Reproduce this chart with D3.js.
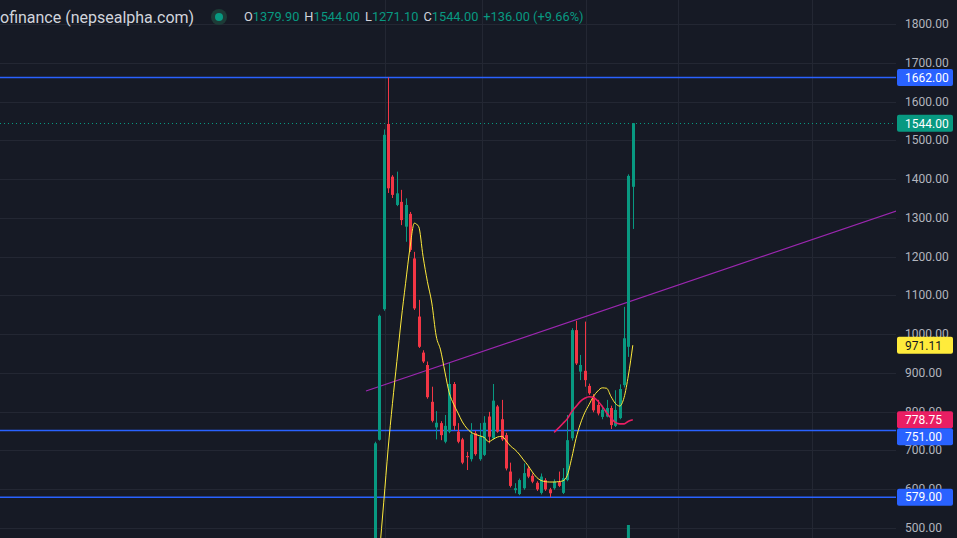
<!DOCTYPE html>
<meta charset="utf-8">
<style>
body { margin: 0; background: #161a25; }
svg { display: block; }
text { font-family: Roboto, "Noto Sans", sans-serif; }
</style>
<svg width="957" height="538"></svg>
<script src="https://d3js.org/d3.v7.min.js"></script>
<script>

// daily candles, left to right (first one opens below the visible range)
var opens  = [420, 727, 1064, 1542, 1406, 1333, 1341, 1277, 1310, 1195, 1045, 952, 920, 825, 759, 770, 722, 748, 871, 748,
              728, 685, 677, 744, 677, 688, 787, 731, 813, 780, 739, 645, 597, 587, 602, 653, 634, 616, 590, 623,
              599, 602, 619, 590, 623, 731, 1010, 903, 905, 866, 839, 817, 786, 787, 809, 763, 783, 868, 967, 1379.9];
var highs  = [722, 1050, 1528, 1662, 1410, 1419, 1372, 1350, 1315, 1212, 1088, 958, 929, 864, 801, 775, 791, 925, 876, 770,
              732, 696, 770, 750, 770, 788, 799, 871, 817, 830, 745, 668, 615, 627, 666, 658, 640, 620, 640, 628,
              603, 625, 645, 654, 791, 1015, 1034, 946, 1032, 872, 845, 830, 815, 830, 815, 855, 870, 1070, 1412, 1544];
var lows   = [400, 725, 1060, 1364, 1351, 1330, 1281, 1238, 1212, 1062, 964, 925, 833, 772, 728, 726, 718, 744, 752, 718,
              664, 649, 671, 686, 673, 685, 718, 728, 745, 724, 648, 604, 589, 584, 598, 628, 615, 595, 586, 595,
              579, 598, 605, 587, 620, 725, 920, 881, 864, 843, 798, 790, 780, 785, 755, 760, 780, 862, 941, 1271.1];
var closes = [718, 1047, 1514, 1376, 1359, 1363, 1294, 1333, 1217, 1066, 967, 929, 837, 776, 771, 739, 763, 871, 763, 722,
              668, 682, 741, 690, 735, 771, 735, 828, 748, 728, 653, 608, 602, 623, 641, 632, 619, 599, 632, 599,
              589, 619, 608, 628, 726, 1010, 924, 920, 881, 847, 803, 795, 804, 809, 765, 804, 858, 989, 1408, 1544];

// yellow moving average (index 0 has no value)
var maFast = [null, 432, 566, 703, 821, 929, 1036, 1131, 1222, 1286, 1277, 1200, 1135, 1080, 995, 959, 902, 848, 819, 796,
              773, 757, 746, 741, 737, 733, 722, 728, 734, 736, 725, 711, 702, 690, 675, 661, 644, 630, 622, 619,
              618, 618, 619, 621, 635, 679, 730, 768, 797, 818, 839, 853, 861, 860, 839, 821, 814, 836, 894, 971.11];
// crimson moving average, starts at candle 41
var maSlowStart = 41;
var maSlow = [746, 757.5, 769, 781, 799, 813, 826, 834, 838, 836, 827, 813, 797, 783, 772, 768, 768, 775, 778.75];

var volumeIndex = [58];
var volumeValue = [13];

var levels = [1662, 751, 579];             // blue horizontal lines
var trendLine = [[-2.06, 853], [120, 1320]]; // purple line, [candle index, price]
var lastPrice = 1544;

var priceTicks = d3.range(500, 1801, 100);
var timeGrid = [2.3, 24.5, 48.3, 69.3, 100];

var svg = d3.select("svg"),
    width = +svg.attr("width"),
    height = +svg.attr("height"),
    plotRight = 896;

var green = "#089981", red = "#f23645", blue = "#2962ff";

var x = d3.scaleLinear().domain([0, 59]).range([375, 632.8]);
var y = d3.scaleLinear().domain([1800, 500]).range([24, 527.75]);
var yVol = d3.scaleLinear().domain([0, 100]).range([height, height - 100]);

svg.append("defs").append("clipPath").attr("id", "plot")
  .append("rect").attr("width", plotRight).attr("height", height);

var plot = svg.append("g").attr("clip-path", "url(#plot)");

// grid
plot.append("g").selectAll("line")
    .data(priceTicks)
    .enter().append("line")
    .attr("x1", 0).attr("x2", plotRight)
    .attr("y1", function(d) { return Math.round(y(d)) + 0.5; })
    .attr("y2", function(d) { return Math.round(y(d)) + 0.5; })
    .attr("stroke", "#232733");

plot.append("g").selectAll("line")
    .data(timeGrid)
    .enter().append("line")
    .attr("y1", 0).attr("y2", height)
    .attr("x1", function(d) { return Math.round(x(d)) + 0.5; })
    .attr("x2", function(d) { return Math.round(x(d)) + 0.5; })
    .attr("stroke", "#232733");

// volume
plot.append("g").selectAll("rect")
    .data(volumeIndex)
    .enter().append("rect")
    .attr("x", function(d) { return x(d) - 1.5; })
    .attr("width", 3)
    .attr("y", function(d, i) { return yVol(volumeValue[i]); })
    .attr("height", function(d, i) { return height - yVol(volumeValue[i]); })
    .attr("fill", green);

// levels
plot.append("g").selectAll("line")
    .data(levels)
    .enter().append("line")
    .attr("x1", 0).attr("x2", plotRight)
    .attr("y1", function(d) { return y(d); })
    .attr("y2", function(d) { return y(d); })
    .attr("stroke", blue).attr("stroke-width", 1.5);

// last price dotted line
plot.append("line")
    .attr("x1", 0).attr("x2", plotRight)
    .attr("y1", Math.round(y(lastPrice)) + 0.5)
    .attr("y2", Math.round(y(lastPrice)) + 0.5)
    .attr("stroke", green).attr("stroke-dasharray", "1,3");

// trend line
plot.append("line")
    .attr("x1", x(trendLine[0][0])).attr("y1", y(trendLine[0][1]))
    .attr("x2", x(trendLine[1][0])).attr("y2", y(trendLine[1][1]))
    .attr("stroke", "#9c27b0").attr("stroke-width", 1.2);

// candles
var idx = d3.range(opens.length);
var candle = plot.append("g").selectAll("g")
    .data(idx)
    .enter().append("g")
    .attr("fill", function(i) { return closes[i] >= opens[i] ? green : red; });

candle.append("rect")
    .attr("x", function(i) { return Math.round(x(i)); })
    .attr("width", 1)
    .attr("y", function(i) { return y(highs[i]); })
    .attr("height", function(i) { return y(lows[i]) - y(highs[i]); });

candle.append("rect")
    .attr("x", function(i) { return Math.round(x(i)) - 1; })
    .attr("width", 3)
    .attr("y", function(i) { return y(Math.max(opens[i], closes[i])); })
    .attr("height", function(i) { return Math.max(1, Math.abs(y(opens[i]) - y(closes[i]))); });

// moving averages
var line = d3.line()
    .defined(function(d) { return d[1] != null; })
    .x(function(d) { return x(d[0]); })
    .y(function(d) { return y(d[1]); })
    .curve(d3.curveMonotoneX);

plot.append("path")
    .datum(maFast.map(function(v, i) { return [i, v]; }))
    .attr("d", line)
    .attr("fill", "none").attr("stroke", "#ffeb3b").attr("stroke-width", 1);

plot.append("path")
    .datum(maSlow.map(function(v, i) { return [i + maSlowStart, v]; }))
    .attr("d", line)
    .attr("fill", "none").attr("stroke", "#e91e63").attr("stroke-width", 1.6);

// price axis
var axis = svg.append("g");
axis.selectAll("text")
    .data(priceTicks)
    .enter().append("text")
    .attr("x", 905)
    .attr("y", function(d) { return y(d); })
    .attr("dy", "0.35em")
    .attr("font-size", 12)
    .attr("fill", "#b2b5be")
    .text(function(d) { return d3.format(".2f")(d); });

var badges = [
  { v: 1662, bg: blue, fg: "#ffffff" },
  { v: lastPrice, bg: green, fg: "#ffffff" },
  { v: maFast[maFast.length - 1], bg: "#ffeb3b", fg: "#131722" },
  { v: maSlow[maSlow.length - 1], bg: "#e91e63", fg: "#ffffff" },
  { v: 751, bg: blue, fg: "#ffffff" },
  { v: 579, bg: blue, fg: "#ffffff" }
];

// stack badges that would overlap, like the price scale does
var badgeH = 17, prevBottom = -Infinity;
badges.sort(function(a, b) { return b.v - a.v; }).forEach(function(d) {
  d.cy = Math.max(y(d.v), prevBottom + badgeH / 2);
  prevBottom = d.cy + badgeH / 2;
});

var badge = axis.selectAll("g.badge")
    .data(badges)
    .enter().append("g")
    .attr("class", "badge")
    .attr("transform", function(d) { return "translate(0," + d.cy + ")"; });

badge.append("rect")
    .attr("x", 897).attr("y", -badgeH / 2)
    .attr("width", 56).attr("height", badgeH)
    .attr("rx", 2)
    .attr("fill", function(d) { return d.bg; });

badge.append("text")
    .attr("x", 905).attr("dy", "0.36em")
    .attr("font-size", 12)
    .attr("fill", function(d) { return d.fg; })
    .text(function(d) { return d3.format(".2f")(d.v); });

// header
var header = svg.append("g").attr("transform", "translate(0,17)");
header.append("text")
    .attr("x", 0).attr("dy", "0.35em")
    .attr("font-size", 16)
    .attr("font-family", "'Open Sans', sans-serif")
    .attr("fill", "#d1d4dc")
    .text("ofinance (nepsealpha.com)");

header.append("circle").attr("cx", 219).attr("r", 8).attr("fill", "#1d3b37");
header.append("circle").attr("cx", 219).attr("r", 4).attr("fill", green);

var ohlc = [["O", "1379.90"], ["H", "1544.00"], ["L", "1271.10"], ["C", "1544.00"]];
var t = header.append("text")
    .attr("x", 244).attr("dy", "0.35em")
    .attr("font-size", 12.8);
ohlc.forEach(function(p, i) {
  t.append("tspan").attr("fill", "#d1d4dc").attr("dx", i ? 5 : 0).text(p[0]);
  t.append("tspan").attr("fill", green).text(p[1]);
});
t.append("tspan").attr("fill", green).attr("dx", 5).text("+136.00 (+9.66%)");

</script>
